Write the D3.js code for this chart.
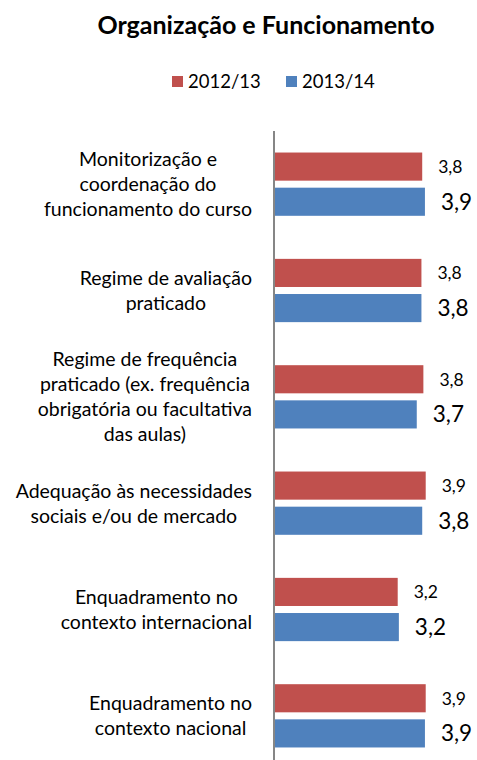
<!DOCTYPE html>
<html>
<head>
<meta charset="utf-8">
<script src="https://cdn.jsdelivr.net/npm/d3@7"></script>
<style>
  body { margin: 0; background: #fff; }
  text { font-family: Lato, "Open Sans", sans-serif; fill: #000; }
</style>
</head>
<body>
<div id="chart"></div>
<script>
// categories (line breaks as in the original wrapped labels)
var categories = [
  "Monitorização e\ncoordenação do\nfuncionamento do curso",
  "Regime de avaliação\npraticado",
  "Regime de frequência\npraticado (ex. frequência\nobrigatória ou facultativa\ndas aulas)",
  "Adequação às necessidades\nsociais e/ou de mercado",
  "Enquadramento no\ncontexto internacional",
  "Enquadramento no\ncontexto nacional"
];
var seriesNames = ["2012/13", "2013/14"];
var values2012 = [3.81, 3.79, 3.84, 3.90, 3.18, 3.90];
var values2013 = [3.88, 3.79, 3.67, 3.81, 3.21, 3.88];
var colors = ["#C0504D", "#4F81BD"];

var width = 477, height = 760;
var axisX = 274;

var svg = d3.select("#chart").append("svg")
    .attr("width", width)
    .attr("height", height);

// title
svg.append("text")
    .attr("x", 266)
    .attr("y", 34)
    .attr("text-anchor", "middle")
    .style("font-weight", "bold")
    .style("font-size", "25px")
    .text("Organização e Funcionamento");

// legend
var legendItems = [{x: 172}, {x: 286}];
seriesNames.forEach(function(name, i) {
  var g = svg.append("g").attr("transform", `translate(${legendItems[i].x},76)`);
  g.append("rect").attr("width", 11).attr("height", 11).attr("fill", colors[i]);
  g.append("text").attr("x", 16).attr("y", 11.5).style("font-size", "18.5px").text(name);
});

// scales
var x = d3.scaleLinear().domain([0, 5]).range([axisX, axisX + 194.5]);
var y = d3.scaleBand()
    .domain(d3.range(categories.length))
    .range([131, 769])
    .paddingInner(0.405)
    .paddingOuter(0.2025);
var ySub = d3.scaleBand()
    .domain([0, 1])
    .range([0, y.bandwidth()])
    .paddingInner(0.2);

var data = categories.map(function(c, i) {
  return {cat: c, vals: [values2012[i], values2013[i]]};
});

var fmt = function(v) { return d3.format(".1f")(v).replace(".", ","); };
var labelSize = ["17.5px", "22.5px"];

var groups = svg.selectAll("g.grp")
  .data(data)
  .enter().append("g")
    .attr("class", "grp")
    .attr("transform", function(d, i) { return `translate(0,${y(i)})`; });

groups.selectAll("rect")
  .data(function(d) { return d.vals; })
  .enter().append("rect")
    .attr("x", x(0))
    .attr("y", function(v, j) { return ySub(j); })
    .attr("width", function(v) { return x(v) - x(0); })
    .attr("height", ySub.bandwidth())
    .attr("fill", function(v, j) { return colors[j]; });

groups.selectAll("text.val")
  .data(function(d) { return d.vals; })
  .enter().append("text")
    .attr("class", "val")
    .attr("x", function(v) { return x(v) + 16; })
    .attr("y", function(v, j) { return ySub(j) + ySub.bandwidth() / 2; })
    .attr("dy", "0.36em")
    .style("font-size", function(v, j) { return labelSize[j]; })
    .text(fmt);

// category labels: lines centred within a block that is right-aligned to the axis
var lineH = 25;
groups.each(function(d) {
  var lines = d.cat.split("\n");
  var g = d3.select(this);
  var cy = y.bandwidth() / 2;
  var t = g.append("text")
      .attr("text-anchor", "middle")
      .style("font-size", "19.5px");
  lines.forEach(function(l, k) {
    t.append("tspan")
      .attr("y", cy + (k - (lines.length - 1) / 2) * lineH)
      .attr("dy", "0.36em")
      .text(l);
  });
  var maxW = 0;
  t.selectAll("tspan").each(function() {
    maxW = Math.max(maxW, this.getComputedTextLength());
  });
  t.selectAll("tspan").attr("x", axisX - 22 - maxW / 2);
});

// vertical axis line
svg.append("line")
    .attr("x1", axisX).attr("x2", axisX)
    .attr("y1", y.range()[0]).attr("y2", y.range()[1])
    .attr("stroke", "#868686")
    .attr("stroke-width", 2);
</script>
</body>
</html>
